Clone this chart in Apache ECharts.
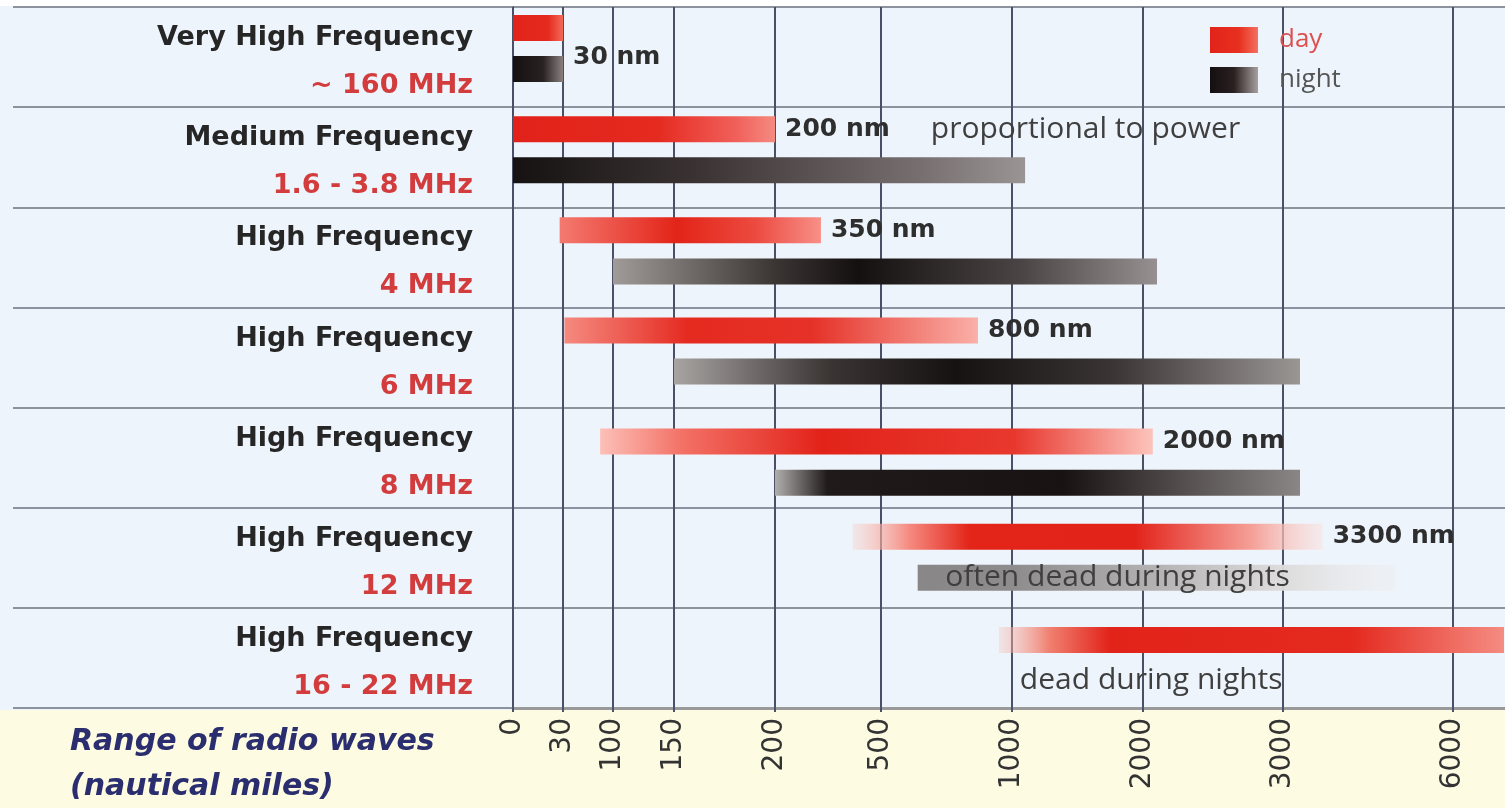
<!DOCTYPE html>
<html><head><meta charset="utf-8">
<script src="https://cdn.jsdelivr.net/npm/echarts@6/dist/echarts.min.js"></script>
<style>html,body{margin:0;padding:0;background:#fff}#c{width:1505px;height:808px}</style>
</head><body><div id="c"></div>
<script>
// ---------- data ----------
const categories = ['Very High Frequency','Medium Frequency','High Frequency','High Frequency','High Frequency','High Frequency','High Frequency'];
const frequencies = ['~ 160 MHz','1.6 - 3.8 MHz','4 MHz','6 MHz','8 MHz','12 MHz','16 - 22 MHz'];
const dayStart   = [0, 0, 28, 32, 82, 420, 950];
const dayEnd     = [30, 200, 330, 870, 2070, 3700, 6900];
const nightStart = [0, 0, 100, 150, 200, 640, null];
const nightEnd   = [30, 1100, 2100, 3300, 3300, 5000, null];
const barLabels  = ['30 nm','200 nm','350 nm','800 nm','2000 nm','3300 nm',''];
const notes      = ['proportional to power','often dead during nights','dead during nights'];
const noteRow    = [1, 5, 6];
const noteAt     = [690, 745, 1060];
const tickValues = [0, 30, 100, 150, 200, 500, 1000, 2000, 3000, 6000];
const tickLabels = ['0','30','100','150','200','500','1000','2000','3000','6000'];

// ---------- layout / style ----------
const scaleUnits = [0, 50, 100, 161, 262, 368, 499, 630, 770, 940]; // non-linear axis scale anchors
const axisMaxUnit = 992;
const barH = 26, dayOffset = -0.28, nightOffset = 0.13;
const rowShift = [-1, 0, 1, 1, 12, 7, 10];
const labelSlot = ['mid','day','day','day','day','day',null];
const noteSlot = ['day','night','night'];
const dayStops = [
  [[0,'#e3231a'],[0.7,'#e52a1e'],[1,'#f26a5a']],
  [[0,'#e2221a'],[0.55,'#e52a20'],[0.85,'#f0605a'],[1,'#f58a80']],
  [[0,'#f47a70'],[0.45,'#e32418'],[0.75,'#ec4a40'],[1,'#f79088']],
  [[0,'#f58a80'],[0.3,'#e52a20'],[0.6,'#e53228'],[1,'#fab0a8']],
  [[0,'#fcc0b8'],[0.15,'#f37065'],[0.4,'#e2231a'],[0.75,'#e8382e'],[1,'#fcc4bc']],
  [[0,'rgba(250,200,190,0.3)'],[0.12,'#f58a80'],[0.25,'#e32418'],[0.6,'#e2231a'],[0.85,'#f5a098'],[1,'rgba(252,220,215,0.4)']],
  [[0,'rgba(248,190,180,0.3)'],[0.1,'#f08070'],[0.22,'#e2231a'],[0.7,'#e42a1f'],[1,'#f58c82']]
];
const nightStops = [
  [[0,'#141010'],[0.6,'#2a2222'],[1,'#8a8080']],
  [[0,'#161212'],[0.35,'#3a3232'],[0.8,'#787070'],[1,'#9a9494']],
  [[0,'#a09a98'],[0.3,'#3a3433'],[0.45,'#151010'],[0.75,'#4a4444'],[1,'#969090']],
  [[0,'#a8a4a2'],[0.25,'#3a3433'],[0.45,'#161212'],[0.7,'#3a3434'],[1,'#9a9694']],
  [[0,'#b0aeac'],[0.1,'#201a1a'],[0.55,'#181212'],[0.8,'#5a5454'],[1,'#8a8686']],
  [[0,'#888686'],[0.2,'#8e8c8c'],[0.5,'#b4b2b2'],[0.75,'#dcdada'],[1,'rgba(235,235,235,0.3)']],
  null
];
const grad = stops => new echarts.graphic.LinearGradient(0,0,1,0, stops.map(s => ({offset:s[0], color:s[1]})));

function toUnit(v){
  const n = tickValues.length;
  let i = 0;
  while (i < n - 2 && v > tickValues[i+1]) i++;
  const t = (v - tickValues[i]) / (tickValues[i+1] - tickValues[i]);
  return scaleUnits[i] + t * (scaleUnits[i+1] - scaleUnits[i]);
}
const tickUnits = tickValues.map(toUnit);

function barRender(kind){
  return function(params, api){
    const i = api.value(0);
    const a = api.coord([api.value(1), i]);
    const b = api.coord([api.value(2), i]);
    const rowH = params.coordSys.height / categories.length;
    const yc = a[1] + (kind === 'day' ? dayOffset : nightOffset) * rowH + rowShift[i];
    const stops = (kind === 'day' ? dayStops : nightStops)[i];
    const children = [{
      type:'rect', shape:{x:a[0], y:yc - barH/2, width:b[0]-a[0], height:barH},
      style:{fill: grad(stops)}
    }];
    if (kind === 'day' && barLabels[i]) {
      children.push({type:'text', style:{
        text: barLabels[i], x: b[0] + 10, y: labelSlot[i] === 'mid' ? a[1] : yc,
        fill:'#2e2e2e', fontFamily:'DejaVu Sans', fontWeight:'bold', fontSize:25,
        align:'left', verticalAlign:'middle'}});
    }
    return {type:'group', children};
  };
}

const chart = echarts.init(document.getElementById('c'));
chart.setOption({
  backgroundColor:'#eef4fb',
  animation:false,
  grid:{left:513, right:0, top:7, bottom:100},
  legend:{
    orient:'vertical', left:1205, top:22, itemWidth:48, itemHeight:26, itemGap:14, icon:'rect',
    selectedMode:false,
    textStyle:{fontFamily:'Open Sans', fontSize:26, padding:[8,0,0,16]},
    data:[{name:'day', textStyle:{color:'#dc5050'}},{name:'night', textStyle:{color:'#555555'}}]
  },
  graphic:[
    {type:'rect', z:-100, shape:{x:0, y:710, width:1505, height:98}, style:{fill:'#fdfbe2'}},
    {type:'rect', z:-100, shape:{x:0, y:0, width:1505, height:6}, style:{fill:'#ffffff'}},
    {type:'text', left:70, top:720, style:{
      text:'Range of radio waves\n(nautical miles)', fill:'#2a2e6e',
      fontFamily:'DejaVu Sans', fontWeight:'bold', fontStyle:'italic', fontSize:30, lineHeight:45}}
  ],
  xAxis:{
    type:'value', min:0, max:axisMaxUnit,
    axisLine:{show:true, lineStyle:{color:'#999999', width:3}},
    axisTick:{show:false},
    splitLine:{show:false},
    axisLabel:{
      customValues: tickUnits, rotate:90, margin:10,
      fontFamily:'DejaVu Sans', fontSize:28, color:'#333333',
      formatter: v => { const k = tickUnits.findIndex(u => Math.abs(u - v) < 0.5); return k >= 0 ? tickLabels[k] : ''; }
    }
  },
  yAxis:{
    type:'category', inverse:true, data: categories.map((c,i) => i),
    axisLine:{show:true, lineStyle:{color:'#4a5068', width:2}},
    axisTick:{show:true, length:500, lineStyle:{color:'#8d939e', width:2}},
    splitLine:{show:true, lineStyle:{color:'#8d939e', width:2}},
    axisLabel:{
      margin:40, padding:[10,0,0,0],
      formatter:(v, idx) => '{a|' + categories[idx] + '}\n{b|' + frequencies[idx] + '}',
      rich:{
        a:{fontFamily:'DejaVu Sans', fontWeight:'bold', fontSize:27, color:'#262626', lineHeight:48, align:'right'},
        b:{fontFamily:'DejaVu Sans', fontWeight:'bold', fontSize:27, color:'#d23c3c', lineHeight:48, align:'right'}
      }
    }
  },
  series:[
    {
      type:'custom', name:'grid', silent:true, z:1,
      data: tickUnits.map(u => [u, 0]),
      encode:{x:0, y:1},
      renderItem:(params, api) => {
        const p = api.coord([api.value(0), 0]);
        const cs = params.coordSys;
        return {type:'line', shape:{x1:p[0], y1:cs.y, x2:p[0], y2:cs.y + cs.height + 4},
          style:{stroke:'#4a5068', lineWidth:2}};
      }
    },
    {
      type:'custom', name:'day', z:3, clip:true,
      itemStyle:{color: grad([[0,'#e2231a'],[0.6,'#e8301f'],[1,'#f47060']])},
      data: dayStart.map((s,i) => [i, toUnit(s), toUnit(dayEnd[i])]),
      encode:{x:[1,2], y:0},
      renderItem: barRender('day')
    },
    {
      type:'custom', name:'night', z:3, clip:true,
      itemStyle:{color: grad([[0,'#141010'],[0.5,'#2a2020'],[1,'#a8a0a0']])},
      data: nightStart.map((s,i) => s === null ? null : [i, toUnit(s), toUnit(nightEnd[i])]).filter(d => d),
      encode:{x:[1,2], y:0},
      renderItem: barRender('night')
    },
    {
      type:'custom', name:'notes', z:4, silent:true,
      data: notes.map((t,k) => [noteRow[k], toUnit(noteAt[k]), k]),
      encode:{x:1, y:0},
      renderItem:(params, api) => {
        const i = api.value(0), k = api.value(2);
        const p = api.coord([api.value(1), i]);
        const rowH = params.coordSys.height / categories.length;
        const yc = p[1] + (noteSlot[k] === 'day' ? dayOffset : nightOffset) * rowH + rowShift[i];
        return {type:'text', style:{text: notes[k], x:p[0], y:yc, fill:'#3f3f3f',
          fontFamily:'Open Sans', fontSize:30, align:'left', verticalAlign:'middle'}};
      }
    }
  ]
});
</script></body></html>
